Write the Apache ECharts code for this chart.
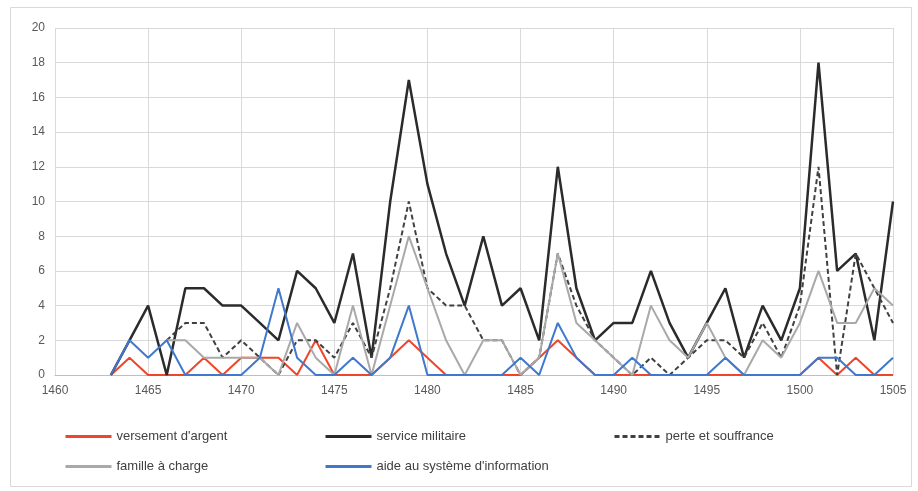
<!DOCTYPE html>
<html>
<head>
<meta charset="utf-8">
<script src="https://cdn.jsdelivr.net/npm/echarts@6/dist/echarts.min.js"></script>
<style>html,body{margin:0;padding:0;background:#fff}#c{width:918px;height:491px}</style>
</head>
<body>
<div id="c"></div>
<script>
const years = [1463,1464,1465,1466,1467,1468,1469,1470,1471,1472,1473,1474,1475,1476,1477,1478,1479,1480,1481,1482,1483,1484,1485,1486,1487,1488,1489,1490,1491,1492,1493,1494,1495,1496,1497,1498,1499,1500,1501,1502,1503,1504,1505];
const versement = [0,1,0,0,0,1,0,1,1,1,0,2,0,0,0,1,2,1,0,0,0,0,0,1,2,1,0,0,0,0,0,0,0,0,0,0,0,0,1,0,1,0,0];
const service = [0,2,4,0,5,5,4,4,3,2,6,5,3,7,1,10,17,11,7,4,8,4,5,2,12,5,2,3,3,6,3,1,3,5,1,4,2,5,18,6,7,2,10];
const perte = [null,null,null,2,3,3,1,2,1,0,2,2,1,3,1,5,10,5,4,4,2,2,0,1,7,4,2,1,0,1,0,1,2,2,1,3,1,4,12,0,7,5,3];
const famille = [null,null,null,2,2,1,1,1,1,0,3,1,0,4,0,4,8,5,2,0,2,2,0,1,7,3,2,1,0,4,2,1,3,1,0,2,1,3,6,3,3,5,4];
const aide = [0,2,1,2,0,0,0,0,1,5,1,0,0,1,0,1,4,0,0,0,0,0,1,0,3,1,0,0,1,0,0,0,0,1,0,0,0,0,1,1,0,0,1];
const names = ["versement d'argent","service militaire","perte et souffrance","famille à charge","aide au système d'information"];

function pairs(arr){ const out=[]; arr.forEach((v,i)=>{ if(v!==null) out.push([years[i],v]); }); return out; }

const font = "'Liberation Sans Narrow','Liberation Sans',sans-serif";
const styles = [
  {color:'#f0452b', width:2, type:'solid'},
  {color:'#2b2b2b', width:2.5, type:'solid'},
  {color:'#404040', width:2, type:[5,3]},
  {color:'#a9a9a9', width:2, type:'solid'},
  {color:'#3f78cc', width:2, type:'solid'}
];
const dataArr = [versement, service, perte, famille, aide];
const legendPos = [[64,430],[324,430],[613,430],[64,460],[324,460]];

const chart = echarts.init(document.getElementById('c'), null, {renderer:'canvas'});
chart.setOption({
  animation:false,
  backgroundColor:'#fff',
  graphic:[{type:'rect', shape:{x:10.5,y:7.5,width:901,height:479}, style:{fill:'none', stroke:'#d9d9d9', lineWidth:1}, silent:true}],
  grid:{left:55, right:25, top:28, bottom:116, containLabel:false},
  xAxis:{type:'value', min:1460, max:1505, interval:5,
    axisLine:{show:true, lineStyle:{color:'#bfbfbf'}}, axisTick:{show:false},
    axisLabel:{color:'#595959', fontFamily:font, fontSize:12, margin:10, formatter:(v)=>String(v)},
    splitLine:{show:true, lineStyle:{color:'#d9d9d9'}}},
  yAxis:{type:'value', min:0, max:20, interval:2,
    axisLine:{show:false}, axisTick:{show:false},
    axisLabel:{color:'#595959', fontFamily:font, fontSize:12, margin:10},
    splitLine:{show:true, lineStyle:{color:'#d9d9d9'}}},
  legend: names.map((n,i)=>({
    data:[n], left:legendPos[i][0], top:legendPos[i][1], itemWidth:46, itemHeight:14, itemGap:4, padding:0,
    itemStyle:{opacity:0}, lineStyle:{width:3},
    textStyle:{color:'#404040', fontFamily:font, fontSize:13}, selectedMode:false
  })),
  series: names.map((n,i)=>({
    name:n, type:'line', data:pairs(dataArr[i]), symbol:'none', showSymbol:false,
    lineStyle:{color:styles[i].color, width:styles[i].width, type:styles[i].type},
    itemStyle:{color:styles[i].color}, z:2+i
  }))
});
</script>
</body>
</html>
